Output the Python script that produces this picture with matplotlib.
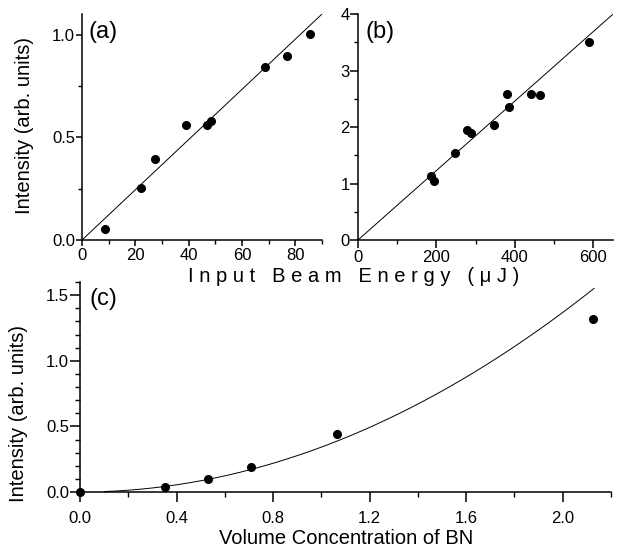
import numpy as np
import matplotlib
matplotlib.use("Agg")
import matplotlib.pyplot as plt
from matplotlib.ticker import MultipleLocator

plt.rcParams['font.family'] = ['Liberation Sans', 'DejaVu Sans']

# ---- data ----
energy_a = [8.6, 22.3, 27.5, 39.0, 47.0, 48.3, 68.7, 77.0, 85.6]
intensity_a = [0.055, 0.252, 0.395, 0.558, 0.558, 0.579, 0.841, 0.894, 1.003]
slope_a = 0.01222

energy_b = [186, 193, 248, 277, 288, 347, 379, 386, 441, 464, 588]
intensity_b = [1.13, 1.05, 1.54, 1.95, 1.89, 2.03, 2.58, 2.35, 2.59, 2.57, 3.50]
slope_b = 0.00615

conc_c = [0.0, 0.354, 0.532, 0.707, 1.063, 2.126]
intensity_c = [0.0, 0.038, 0.101, 0.193, 0.441, 1.32]
coef_c = 0.342
fit_c_range = [0.1, 2.13]

W, H = 619, 551
fig = plt.figure(figsize=(W / 100, H / 100), dpi=100)

def box(l, t, r, b):
    return [l / W, 1 - b / H, (r - l) / W, (b - t) / H]

TICK = 12
def style(ax, major=4.5, minor=2.8):
    for s in ['top', 'right']:
        ax.spines[s].set_visible(False)
    for s in ['left', 'bottom']:
        ax.spines[s].set_linewidth(1.1)
    ax.tick_params(which='major', direction='out', length=major, width=1.1, labelsize=TICK, pad=1.5)
    ax.tick_params(which='minor', direction='out', length=minor, width=1.0)

mk = dict(marker='o', ls='none', color='black', ms=5.5)
lk = dict(color='black', lw=0.7)

# (a)
axa = fig.add_axes(box(82, 14, 322, 240))
style(axa)
xx = np.array([0, 90])
axa.plot(xx, slope_a * xx, **lk)
axa.plot(energy_a, intensity_a, **mk, clip_on=False)
axa.set_xlim(0, 90)
axa.set_ylim(0, 1.1)
axa.xaxis.set_major_locator(MultipleLocator(20))
axa.xaxis.set_minor_locator(MultipleLocator(10))
axa.yaxis.set_major_locator(MultipleLocator(0.5))
axa.yaxis.set_minor_locator(MultipleLocator(0.25))
axa.yaxis.set_major_formatter(plt.FuncFormatter(lambda v, p: f"{v:.1f}"))
axa.tick_params(axis='y', which='major', pad=0.5)
axa.text(0.025, 0.97, "(a)", transform=axa.transAxes, fontsize=17, va='top', ha='left')

# (b)
axb = fig.add_axes(box(358, 14, 613, 240))
style(axb, major=5.5)
xx = np.array([0, 650])
axb.plot(xx, slope_b * xx, **lk)
axb.plot(energy_b, intensity_b, **mk, clip_on=False)
axb.set_xlim(0, 650)
axb.set_ylim(0, 4)
axb.xaxis.set_major_locator(MultipleLocator(200))
axb.xaxis.set_minor_locator(MultipleLocator(100))
axb.yaxis.set_major_locator(MultipleLocator(1))
axb.yaxis.set_minor_locator(MultipleLocator(0.5))
axb.tick_params(axis='y', which='major', pad=0.5)
axb.text(0.03, 0.97, "(b)", transform=axb.transAxes, fontsize=17, va='top', ha='left')

# (c)
axc = fig.add_axes(box(80, 282, 611, 492))
style(axc, major=7, minor=3.6)
xc = np.linspace(fit_c_range[0], fit_c_range[1], 200)
axc.plot(xc, coef_c * xc ** 2, **lk)
axc.plot(conc_c, intensity_c, **mk, clip_on=False, zorder=5)
axc.set_xlim(0, 2.2)
axc.set_ylim(0, 1.6)
axc.xaxis.set_major_locator(MultipleLocator(0.4))
axc.xaxis.set_minor_locator(MultipleLocator(0.2))
axc.yaxis.set_major_locator(MultipleLocator(0.5))
axc.yaxis.set_minor_locator(MultipleLocator(0.1))
axc.xaxis.set_major_formatter(plt.FuncFormatter(lambda v, p: f"{v:.1f}"))
axc.yaxis.set_major_formatter(plt.FuncFormatter(lambda v, p: f"{v:.1f}"))
axc.tick_params(axis='x', which='major', pad=7)
axc.tick_params(axis='y', which='major', pad=1)
axc.text(0.018, 0.97, "(c)", transform=axc.transAxes, fontsize=17, va='top', ha='left')

# labels
LAB = 14.5
fig.text(25 / W, 1 - 125 / H, "Intensity (arb. units)", rotation=90, ha='center', va='center', fontsize=LAB)
fig.text(19 / W, 1 - 413 / H, "Intensity (arb. units)", rotation=90, ha='center', va='center', fontsize=LAB)
fig.text(354 / W, 1 - 276 / H, "I n p u t   B e a m   E n e r g y   ( \u03bc J )", ha='center', va='center', fontsize=LAB)
fig.text(346 / W, 1 - 538 / H, "Volume Concentration of BN", ha='center', va='center', fontsize=LAB)

fig.savefig("out.png", dpi=100)
